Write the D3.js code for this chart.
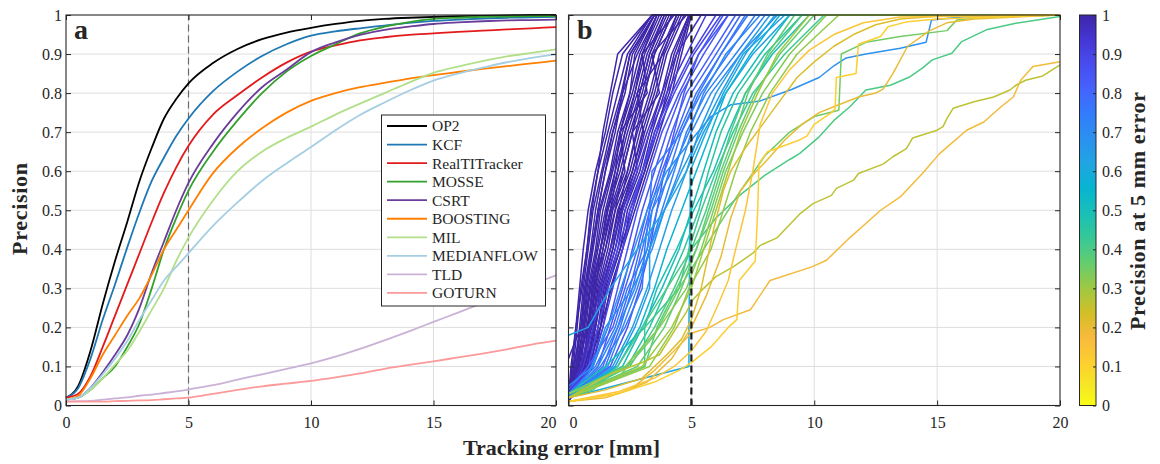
<!DOCTYPE html>
<html><head><meta charset="utf-8">
<script src="https://cdn.jsdelivr.net/npm/d3@7"></script>
<style>
body{margin:0;background:#fff}
svg text{font-family:"Liberation Serif","Times New Roman",serif;fill:#262626}
</style>
</head><body>
<svg id="chart" width="1160" height="464"></svg>
<script>
// ---------------- DATA ----------------
const xTicks = [0, 5, 10, 15, 20];
const yTicks = [0, 0.1, 0.2, 0.3, 0.4, 0.5, 0.6, 0.7, 0.8, 0.9, 1];
const cbTicks = [0, 0.1, 0.2, 0.3, 0.4, 0.5, 0.6, 0.7, 0.8, 0.9, 1];

// panel a: tracking error samples (mm)
const errA = [0,0.5,1,1.5,2,2.5,3,3.5,4,4.5,5,6,7,8,9,10,11,12,13,14,15,16,17,18,19,20];
const trackerNames = ["OP2","KCF","RealTITracker","MOSSE","CSRT","BOOSTING","MIL","MEDIANFLOW","TLD","GOTURN"];
const trackerColors = ["#000000","#1f78b4","#e31a1c","#33a02c","#6a3d9a","#ff7f00","#b2df8a","#a6cee3","#cab2d6","#fb9a99"];
const precOP2 = [0.02,0.05,0.14,0.26,0.37,0.47,0.575,0.66,0.735,0.785,0.825,0.877,0.913,0.938,0.955,0.967,0.977,0.985,0.99,0.993,0.995,0.997,0.998,0.999,1.0,1.0];
const precKCF = [0.02,0.045,0.12,0.22,0.31,0.405,0.495,0.575,0.635,0.69,0.735,0.805,0.855,0.895,0.925,0.947,0.958,0.966,0.973,0.98,0.985,0.988,0.991,0.993,0.994,0.995];
const precRealTI = [0.02,0.03,0.075,0.15,0.23,0.31,0.39,0.47,0.545,0.61,0.665,0.745,0.795,0.84,0.878,0.906,0.922,0.935,0.943,0.949,0.953,0.957,0.96,0.963,0.966,0.969];
const precMOSSE = [0.015,0.02,0.04,0.07,0.1,0.15,0.21,0.3,0.4,0.48,0.55,0.65,0.73,0.8,0.855,0.895,0.925,0.953,0.97,0.982,0.99,0.993,0.995,0.996,0.997,0.997];
const precCSRT = [0.015,0.02,0.045,0.085,0.13,0.18,0.25,0.34,0.42,0.5,0.57,0.67,0.75,0.815,0.86,0.905,0.93,0.949,0.962,0.97,0.977,0.981,0.984,0.986,0.987,0.988];
const precBOOSTING = [0.015,0.025,0.07,0.13,0.18,0.23,0.275,0.335,0.4,0.45,0.5,0.595,0.66,0.71,0.75,0.78,0.8,0.815,0.826,0.837,0.846,0.854,0.862,0.869,0.876,0.883];
const precMIL = [0.015,0.02,0.04,0.07,0.105,0.14,0.19,0.245,0.3,0.37,0.43,0.525,0.6,0.65,0.685,0.714,0.745,0.773,0.8,0.827,0.852,0.868,0.882,0.894,0.903,0.912];
const precMEDIANFLOW = [0.015,0.02,0.045,0.08,0.12,0.165,0.22,0.27,0.32,0.355,0.39,0.46,0.52,0.575,0.62,0.662,0.705,0.744,0.776,0.806,0.832,0.85,0.865,0.879,0.89,0.9];
const precTLD = [0.01,0.011,0.012,0.015,0.018,0.021,0.025,0.028,0.032,0.036,0.041,0.052,0.066,0.08,0.094,0.108,0.125,0.145,0.167,0.19,0.214,0.238,0.262,0.287,0.31,0.333];
const precGOTURN = [0.01,0.01,0.01,0.01,0.011,0.012,0.013,0.014,0.016,0.018,0.02,0.03,0.04,0.049,0.056,0.063,0.072,0.082,0.094,0.104,0.113,0.123,0.133,0.144,0.156,0.166];
const seriesA = [precOP2,precKCF,precRealTI,precMOSSE,precCSRT,precBOOSTING,precMIL,precMEDIANFLOW,precTLD,precGOTURN];

// panel b: per-sequence curves, as [precision at 0 mm, error (mm) where precision reaches 0.1, 0.2, ... 1.0]
const levelsB = [0.1,0.2,0.3,0.4,0.5,0.6,0.7,0.8,0.9,1.0];
const seqCurves = [
  [0.02,0.15,0.3,0.45,0.6,0.8,1.1,1.5,1.8,2.2,3.4],
  [0.03,0.2,0.35,0.5,0.75,0.9,1.2,1.6,2.0,2.4,3.4],
  [0.02,0.25,0.45,0.6,0.8,1.0,1.35,1.7,2.15,2.5,3.5],
  [0.01,0.3,0.5,0.65,0.9,1.1,1.4,1.8,2.3,2.6,3.5],
  [0.04,0.2,0.55,0.7,0.95,1.2,1.5,1.9,2.2,2.8,3.6],
  [0.02,0.35,0.6,0.75,1.0,1.25,1.7,2.0,2.5,2.9,3.6],
  [0.03,0.4,0.6,0.8,1.1,1.3,1.75,2.1,2.6,3.0,3.7],
  [0.02,0.45,0.65,0.85,1.15,1.4,1.8,2.2,2.7,3.1,3.8],
  [0.12,null,0.5,0.7,0.95,1.2,1.5,1.8,2.2,2.5,3.5],
  [0.02,0.5,0.7,0.9,1.2,1.5,1.9,2.3,2.8,3.2,3.9],
  [0.03,0.55,0.8,0.95,1.3,1.55,2.0,2.4,2.9,3.3,4.0],
  [0.02,0.6,0.8,1.0,1.3,1.6,2.1,2.5,3.0,3.4,4.1],
  [0.01,0.65,0.85,1.05,1.4,1.7,2.2,2.6,3.1,3.5,4.2],
  [0.02,0.7,0.9,1.1,1.4,1.75,2.3,2.1,3.2,3.0,4.3],
  [0.03,0.5,0.95,1.15,1.5,1.8,2.4,2.8,3.3,3.7,4.4],
  [0.02,0.75,1.0,1.2,1.6,1.9,2.5,2.9,3.4,3.8,4.5],
  [0.02,0.8,1.05,1.3,1.7,2.0,2.6,3.0,3.5,3.9,4.6],
  [0.03,0.85,1.1,1.35,1.8,2.1,2.7,3.1,3.6,4.0,4.7],
  [0.02,0.9,1.2,1.45,1.9,2.2,2.8,2.6,3.7,3.4,4.8],
  [0.02,0.6,1.3,1.5,2.0,2.3,2.9,3.3,3.8,4.2,4.9],
  [0.01,1.0,1.3,1.6,2.1,2.4,3.0,3.4,3.9,4.3,4.9],
  [0.02,0.95,1.4,1.7,2.2,2.5,3.1,3.5,4.1,4.5,4.95],
  [0.03,0.4,0.75,1.0,1.5,1.9,2.2,2.6,2.9,3.3,3.9],
  [0.02,0.3,0.6,0.9,1.3,1.7,2.0,2.3,2.7,3.0,3.6],
  [0.04,0.35,0.8,1.1,1.3,1.6,1.9,2.1,2.5,2.7,3.5],
  [0.02,0.55,0.9,1.25,1.7,2.05,2.4,2.75,3.1,3.5,4.2],
  [0.02,0.65,1.1,1.4,1.8,2.15,2.6,3.05,2.8,3.85,4.4],
  [0.03,0.75,1.2,1.55,2.1,2.6,3.1,3.6,4.0,4.4,4.95],
  [0.02,0.85,1.3,1.75,2.2,2.7,3.2,3.7,4.2,4.6,5.0],
  [0.02,0.1,0.3,0.55,0.75,0.95,1.2,1.4,1.7,2.0,3.4],
  [0.02,0.6,1.0,1.4,1.9,2.3,2.8,3.3,4.0,4.8,5.6],
  [0.02,0.9,1.4,1.8,2.2,2.6,3.0,3.5,4.2,5.0,6.0],
  [0.03,1.0,1.6,2.0,2.4,2.8,3.3,3.8,4.5,5.3,6.3],
  [0.02,1.2,1.7,2.2,2.6,3.0,3.5,4.0,4.6,5.5,6.5],
  [0.04,0.8,1.8,2.3,2.8,3.2,3.7,4.2,4.8,5.8,6.8],
  [0.02,1.4,2.0,2.5,2.9,3.3,3.8,4.4,5.0,6.0,7.0],
  [0.02,1.5,2.1,2.6,3.0,3.4,3.9,4.5,5.2,6.2,7.3],
  [0.03,1.1,1.9,2.4,3.2,3.6,4.1,4.6,5.4,6.5,7.6],
  [0.02,1.6,2.2,2.8,3.3,3.8,4.3,4.8,5.6,6.8,8.0],
  [0.02,1.3,2.3,3.0,3.1,3.3,3.4,4.6,5.3,6.2,7.2],
  [0.05,1.0,1.5,2.6,3.4,3.9,4.5,5.0,5.8,7.0,8.5],
  [0.02,0.5,0.9,1.3,1.7,2.2,2.7,3.2,3.8,4.4,5.4],
  [0.03,0.8,1.2,1.6,2.0,2.5,3.0,3.6,4.3,5.1,6.2],
  [0.02,1.7,2.4,2.9,3.3,3.6,3.9,4.3,4.7,5.3,6.5],
  [0.02,1.2,2.0,2.7,3.2,3.4,4.2,4.9,5.5,6.4,7.8],
  [0.02,1.8,2.6,3.2,3.7,4.2,4.8,5.3,6.0,7.0,8.2],
  [0.02,2.0,2.9,3.5,4.0,4.6,5.2,5.8,6.4,7.4,8.6],
  [0.03,2.2,3.0,3.8,4.5,5.0,5.5,6.0,6.7,7.8,9.0],
  [0.02,4.9,4.9,4.92,4.92,4.95,4.95,5.6,6.3,7.2,8.4],
  [0.18,null,0.8,1.7,2.8,3.9,4.8,5.5,6.4,7.5,9.0],
  [0.02,2.4,3.3,4.0,4.7,5.3,5.7,6.2,6.9,8.0,9.5],
  [0.03,1.5,3.1,3.6,4.4,5.1,5.9,6.5,7.2,8.3,9.8],
  [0.02,1.9,2.7,3.3,3.3,3.9,4.6,5.4,6.2,7.1,8.8],
  [0.02,2.5,3.5,4.3,5.0,5.6,6.1,6.6,7.2,8.2,9.5],
  [0.02,2.8,3.9,4.6,5.2,5.8,6.3,6.9,7.6,8.6,10.0],
  [0.03,2.3,3.7,4.8,5.4,5.9,6.4,7.1,7.9,9.0,10.5],
  [0.02,3.0,4.2,5.0,5.5,6.0,6.5,7.0,7.7,8.5,9.8],
  [0.02,3.3,4.3,4.9,5.8,6.3,6.8,7.4,8.2,9.3,11.0],
  [0.03,3.1,3.6,4.4,5.2,5.7,6.2,6.8,7.3,8.1,9.2],
  [0.02,3.1,3.1,4.5,4.9,5.4,6.0,6.7,7.5,8.8,10.4]
];
// panel b: sequences traced point by point, [error, precision, error, precision, ...]
const seqTraced = [
  [0,0.01, 1.5,0.02, 2.5,0.04, 3.5,0.09, 4.3,0.14, 5,0.185, 5.75,0.2, 6.3,0.22, 7.4,0.245, 8.2,0.32, 9.9,0.355, 10.5,0.372, 11.45,0.43, 12.1,0.466, 12.7,0.5, 13.5,0.534, 14.4,0.594, 15.1,0.645, 16.2,0.705, 16.9,0.726, 17.6,0.765, 18.1,0.79, 18.4,0.833, 18.9,0.868, 20,0.88],
  [0,0.02, 1.7,0.08, 3,0.11, 3.7,0.13, 4.8,0.24, 5.05,0.27, 5.5,0.3, 6,0.33, 6.7,0.355, 7.5,0.39, 7.8,0.41, 8.5,0.43, 9.1,0.47, 9.4,0.49, 9.95,0.517, 10.7,0.538, 10.9,0.556, 11.6,0.577, 11.8,0.594, 12.8,0.618, 13.2,0.637, 13.75,0.658, 14,0.685, 15,0.705, 15.24,0.714, 15.4,0.735, 15.65,0.761, 16.5,0.778, 17.3,0.79, 17.96,0.808, 18.2,0.82, 18.6,0.833, 19.3,0.844, 20,0.872],
  [0,0.01, 2,0.03, 3.5,0.06, 4.5,0.09, 5,0.11, 5.8,0.15, 6.5,0.2, 6.85,0.22, 6.95,0.32, 7.6,0.37, 7.7,0.5, 7.75,0.62, 8.1,0.65, 9.4,0.68, 9.7,0.69, 10,0.72, 10.7,0.75, 10.85,0.76, 10.9,0.84, 11.7,0.85, 11.8,0.925, 12.7,0.945, 13,0.97, 13.8,0.983, 15,0.99, 20,1],
  [0,0.02, 1.5,0.04, 3,0.07, 4,0.13, 4.6,0.17, 5,0.22, 5.4,0.3, 5.9,0.45, 6.3,0.55, 6.6,0.6, 7.2,0.66, 7.9,0.72, 8.6,0.78, 9.3,0.84, 10,0.88, 10.8,0.92, 11.6,0.95, 12.5,0.975, 13.5,0.99, 15,0.997, 20,1],
  [0,0.01, 2,0.03, 3.2,0.06, 4.2,0.12, 5,0.2, 5.6,0.28, 6.2,0.38, 6.6,0.48, 7,0.55, 7.5,0.59, 8.1,0.63, 8.8,0.68, 9.5,0.72, 10.2,0.75, 11,0.77, 11.8,0.79, 12.5,0.8, 12.8,0.81, 13.2,0.85, 13.8,0.92, 14.7,0.96, 15.4,0.98, 16.5,0.99, 20,1],
  [0,0.01, 2,0.035, 3.5,0.07, 4.3,0.1, 5,0.14, 5.6,0.19, 6.1,0.26, 6.5,0.32, 6.8,0.4, 7.2,0.5, 7.5,0.6, 7.8,0.72, 8.3,0.8, 9,0.86, 9.8,0.91, 10.8,0.95, 12,0.98, 13.5,0.995, 20,1],
  [0,0.02, 1,0.04, 2,0.1, 3,0.2, 4,0.3, 5,0.4, 6,0.48, 7,0.54, 8,0.59, 9,0.63, 9.4,0.645, 10.2,0.688, 10.8,0.73, 11.45,0.765, 12.1,0.808, 13.1,0.82, 13.9,0.842, 14.4,0.864, 14.8,0.885, 15.6,0.902, 16,0.932, 17,0.962, 18.2,0.979, 20,0.996],
  [0,0.02, 2,0.07, 3.5,0.18, 4.5,0.3, 5,0.35, 6,0.45, 7,0.55, 8,0.64, 9,0.7, 10,0.74, 11,0.756, 11.1,0.9, 12.1,0.93, 13.5,0.945, 15.4,0.96, 15.8,0.987, 17,0.995, 20,1],
  [0,0.02, 0.8,0.08, 1.6,0.2, 2.4,0.35, 3.2,0.5, 4,0.6, 5,0.68, 5.8,0.74, 6.6,0.77, 7.8,0.78, 9.1,0.81, 10.2,0.84, 10.8,0.87, 11.3,0.89, 12.1,0.9, 13.5,0.915, 14.55,0.93, 14.77,0.987, 16,0.995, 20,1]
];

// flipped parula colormap stops (value 0 = first stop)
const parulaStops = ["#3e26a8","#4537d5","#484df0","#4563fd","#327cfc","#2b91ef","#20a5e3","#08b5d0","#19bfb6","#37c897","#64cd6f","#9dc943","#d1bf27","#f8ba3d","#fccf30","#f5e924","#f9fb15"];
const parulaPos = [0,4,8,12,16,20,24,28,32,36,40,44,48,52,56,60,63].map(i => i / 63);

// ---------------- DRAW ----------------
const svg = d3.select("#chart");
const yTop = 15, yBot = 405.5;
const y = d3.scaleLinear().domain([0, 1]).range([yBot, yTop]);
const xA = d3.scaleLinear().domain([0, 20]).range([66, 556]);
const xB = d3.scaleLinear().domain([0, 20]).range([568.5, 1060]);
const parula = d3.scaleLinear().domain(parulaPos).range(parulaStops).interpolate(d3.interpolateRgb);
const colorOf = v => parula(1 - v);
const axisColor = "#262626";
const serif = '"Liberation Serif","Times New Roman",serif';
const fmtY = d => (d === 0 || d === 1) ? String(d) : d.toFixed(1);

function grid(x) {
  const g = svg.append("g");
  g.selectAll("line.gx").data(xTicks.slice(1, -1)).join("line").attr("class", "gx")
    .attr("x1", d => x(d)).attr("x2", d => x(d)).attr("y1", yBot).attr("y2", yTop)
    .attr("stroke", "#dedede").attr("stroke-width", 1);
  g.selectAll("line.gy").data(yTicks.slice(1, -1)).join("line").attr("class", "gy")
    .attr("x1", x.range()[0]).attr("x2", x.range()[1]).attr("y1", d => y(d)).attr("y2", d => y(d))
    .attr("stroke", "#dedede").attr("stroke-width", 1);
}

function styleAxis(g) {
  g.select(".domain").remove();
  g.attr("font-family", serif).attr("font-size", 16);
  g.selectAll("line").attr("stroke", axisColor);
  g.selectAll("text").attr("fill", axisColor);
}

function frame(x, yLabels, edgeShift) {
  const [x0, x1] = x.range();
  const bottom = svg.append("g").attr("transform", `translate(0,${yBot})`)
    .call(d3.axisBottom(x).tickValues(xTicks).tickSize(-5).tickPadding(11).tickFormat(d3.format("d"))).call(styleAxis);
  bottom.selectAll(".tick text").attr("dx", d => (edgeShift[d] || 0));
  svg.append("g").attr("transform", `translate(0,${yTop})`)
    .call(d3.axisTop(x).tickValues(xTicks).tickSize(-5).tickFormat("")).call(styleAxis);
  svg.append("g").attr("transform", `translate(${x0},0)`)
    .call(d3.axisLeft(y).tickValues(yTicks).tickSize(-5).tickPadding(4).tickFormat(yLabels ? fmtY : "")).call(styleAxis);
  svg.append("g").attr("transform", `translate(${x1},0)`)
    .call(d3.axisRight(y).tickValues(yTicks).tickSize(-5).tickFormat("")).call(styleAxis);
  svg.append("rect").attr("x", x0).attr("y", yTop).attr("width", x1 - x0).attr("height", yBot - yTop)
    .attr("fill", "none").attr("stroke", axisColor).attr("stroke-width", 1.1);
}

// ---- panel a ----
grid(xA);
svg.append("line").attr("x1", xA(5)).attr("x2", xA(5)).attr("y1", yBot).attr("y2", yTop)
  .attr("stroke", "#6a6a6a").attr("stroke-width", 1.2).attr("stroke-dasharray", "7,4");
const lineA = d3.line().x((d, i) => xA(errA[i])).y(d => y(d)).curve(d3.curveMonotoneX);
svg.append("g").selectAll("path").data(seriesA).join("path")
  .attr("d", lineA).attr("fill", "none")
  .attr("stroke", (d, i) => trackerColors[i]).attr("stroke-width", 1.8).attr("stroke-linejoin", "round");
frame(xA, true, {20: -8});

// legend
const leg = svg.append("g");
const legX = 381.5, legY = 115, legW = 164, legH = 191, rowY0 = 126, rowH = 18.55;
leg.append("rect").attr("x", legX).attr("y", legY).attr("width", legW).attr("height", legH)
  .attr("fill", "#fff").attr("stroke", axisColor).attr("stroke-width", 1);
const rows = leg.selectAll("g.row").data(trackerNames).join("g").attr("class", "row")
  .attr("transform", (d, i) => `translate(0,${rowY0 + i * rowH})`);
rows.append("line").attr("x1", 387).attr("x2", 427).attr("stroke", (d, i) => trackerColors[i]).attr("stroke-width", 1.8);
rows.append("text").attr("x", 432).attr("dy", "0.35em").attr("font-size", 15.5).attr("font-family", serif).text(d => d);

// ---- panel b ----
grid(xB);
svg.append("defs").append("clipPath").attr("id", "clipB").append("rect")
  .attr("x", 568.5).attr("y", yTop - 1.5).attr("width", 1060 - 568.5).attr("height", yBot - yTop + 1.5);
const curvesB = [];
seqCurves.forEach(c => {
  const pts = [[0, c[0]]];
  levelsB.forEach((lv, i) => { if (c[i + 1] != null) pts.push([c[i + 1], lv]); });
  pts.push([20, 1]);
  curvesB.push(pts);
});
seqTraced.forEach(c => {
  const pts = [];
  for (let i = 0; i < c.length; i += 2) pts.push([c[i], c[i + 1]]);
  if (pts[pts.length - 1][0] < 20) pts.push([20, pts[pts.length - 1][1]]);
  curvesB.push(pts);
});
function precAt5(pts) {
  let best = null;
  for (let i = 0; i < pts.length - 1; i++) {
    const [xa, ya] = pts[i], [xb, yb] = pts[i + 1];
    if ((xa <= 5 && xb >= 5) || (xb <= 5 && xa >= 5)) {
      const v = xa === xb ? Math.max(ya, yb) : ya + (yb - ya) * (5 - xa) / (xb - xa);
      best = best == null ? v : Math.max(best, v);
    }
  }
  return best;
}
const curveData = curvesB.map(p => ({ pts: p, p5: precAt5(p) })).sort((a, b) => b.p5 - a.p5);
const lineB = d3.line().x(d => xB(d[0])).y(d => y(d[1]));
svg.append("g").attr("clip-path", "url(#clipB)").selectAll("path").data(curveData).join("path")
  .attr("d", d => lineB(d.pts)).attr("fill", "none").attr("stroke", d => colorOf(d.p5))
  .attr("stroke-width", 1.5).attr("stroke-linejoin", "round");
svg.append("line").attr("x1", xB(5)).attr("x2", xB(5)).attr("y1", yBot).attr("y2", yTop)
  .attr("stroke", "#1a1a1a").attr("stroke-width", 2.2).attr("stroke-dasharray", "7,4");
frame(xB, false, {0: 4.5});

// panel letters
svg.append("text").attr("x", 74).attr("y", 39).attr("font-size", 28).attr("font-weight", "bold").attr("font-family", serif).text("a");
svg.append("text").attr("x", 577).attr("y", 39).attr("font-size", 28).attr("font-weight", "bold").attr("font-family", serif).text("b");

// axis labels
svg.append("text").attr("transform", "translate(27,209) rotate(-90)").attr("text-anchor", "middle").attr("font-family", serif)
  .attr("font-size", 22).attr("font-weight", "bold").attr("textLength", 92).attr("lengthAdjust", "spacing").text("Precision");
svg.append("text").attr("x", 561.5).attr("y", 455).attr("text-anchor", "middle").attr("font-family", serif)
  .attr("font-size", 22).attr("font-weight", "bold").attr("textLength", 197).attr("lengthAdjust", "spacing").text("Tracking error [mm]");

// colorbar
const cbX0 = 1079.5, cbX1 = 1096;
const grad = svg.select("defs").append("linearGradient").attr("id", "cbGrad")
  .attr("x1", 0).attr("y1", 0).attr("x2", 0).attr("y2", 1);
grad.selectAll("stop").data(parulaStops).join("stop")
  .attr("offset", (d, i) => parulaPos[i]).attr("stop-color", d => d);
svg.append("rect").attr("x", cbX0).attr("y", yTop).attr("width", cbX1 - cbX0).attr("height", yBot - yTop)
  .attr("fill", "url(#cbGrad)");
const cbY = d3.scaleLinear().domain([0, 1]).range([yBot, yTop]);
svg.append("g").attr("transform", `translate(${cbX1},0)`)
  .call(d3.axisRight(cbY).tickValues(cbTicks).tickSize(-3).tickPadding(6).tickFormat(fmtY)).call(styleAxis);
svg.append("rect").attr("x", cbX0).attr("y", yTop).attr("width", cbX1 - cbX0).attr("height", yBot - yTop)
  .attr("fill", "none").attr("stroke", axisColor).attr("stroke-width", 1);
svg.append("text").attr("transform", "translate(1145,211) rotate(-90)").attr("text-anchor", "middle").attr("font-family", serif)
  .attr("font-size", 22).attr("font-weight", "bold").attr("textLength", 238).attr("lengthAdjust", "spacing")
  .text("Precision at 5 mm error");
</script>
</body></html>
